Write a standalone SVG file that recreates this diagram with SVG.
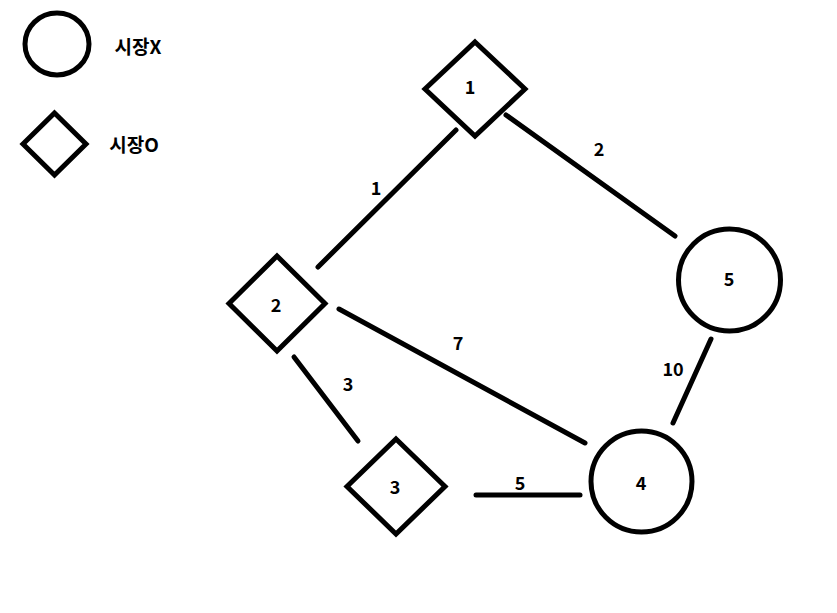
<svg xmlns="http://www.w3.org/2000/svg" width="837" height="613" viewBox="0 0 837 613">
<style>
.shape{fill:none;stroke:#000;stroke-width:5}
.edge{stroke:#000;stroke-width:5;stroke-linecap:round}
text{font-family:"Noto Sans CJK KR","Noto Sans",sans-serif;font-weight:bold;font-size:18px;fill:#000;text-anchor:middle;dominant-baseline:central}
.lg{font-size:19px}
</style>
<rect width="837" height="613" fill="#fff"/>
<g id="legend">
<ellipse class="shape" cx="57" cy="44" rx="32" ry="31"/>
<text class="lg" x="138" y="45">시장X</text>
<polygon class="shape" points="54.5,113 86,144 54.5,175 23,144"/>
<text class="lg" x="134" y="143">시장O</text>
</g>
<g id="connectors">
<line class="edge" x1="456" y1="130" x2="318" y2="267"/>
<text x="376" y="187">1</text>
<line class="edge" x1="506" y1="115" x2="675" y2="236"/>
<text x="599" y="148">2</text>
<line class="edge" x1="294" y1="357" x2="358" y2="441"/>
<text x="348" y="383">3</text>
<line class="edge" x1="339" y1="309" x2="585" y2="443"/>
<text x="458" y="342">7</text>
<line class="edge" x1="476" y1="495" x2="580" y2="495"/>
<text x="520" y="482">5</text>
<line class="edge" x1="711" y1="339" x2="673" y2="423"/>
<text x="673" y="368">10</text>
</g>
<g id="node1">
<polygon class="shape" points="475,42 525,89 475,136 425,89"/>
<text x="470" y="86">1</text>
</g>
<g id="node2">
<polygon class="shape" points="277,256 325,303.5 277,351 229,303.5"/>
<text x="276" y="304">2</text>
</g>
<g id="node3">
<polygon class="shape" points="396,439 445,486.5 396,534 347,486.5"/>
<text x="395" y="486">3</text>
</g>
<g id="node4">
<circle class="shape" cx="641.5" cy="481.5" r="50.5"/>
<text x="641" y="482">4</text>
</g>
<g id="node5">
<circle class="shape" cx="729.5" cy="280" r="51"/>
<text x="729" y="278">5</text>
</g>
</svg>
